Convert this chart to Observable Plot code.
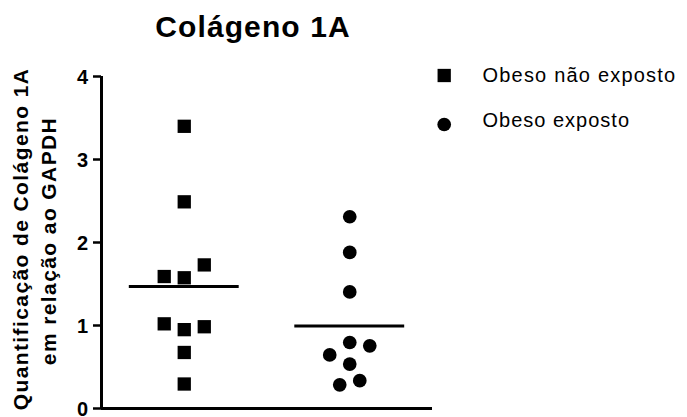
<!DOCTYPE html>
<html>
<head>
<meta charset="utf-8">
<script src="https://cdn.jsdelivr.net/npm/d3@7"></script>
<script src="https://cdn.jsdelivr.net/npm/@observablehq/plot@0.6"></script>
<style>
  html, body { margin: 0; padding: 0; background: #fff; }
  #chart svg { display: block; font-family: "Liberation Sans", Arial, sans-serif; }
</style>
</head>
<body>
<div id="chart"></div>
<script>
// Colágeno 1A relative to GAPDH, per animal
const grupos = ["Obeso não exposto", "Obeso exposto"];
const naoExposto = [3.40, 2.49, 1.59, 1.575, 1.73, 1.02, 0.95, 0.985, 0.675, 0.295];
const naoExpostoFaixa = [0, 0, -1, 0, 1, -1, 0, 1, 0, 0];   // horizontal scatter lane of each point
const exposto = [2.31, 1.88, 1.405, 0.795, 0.755, 0.645, 0.535, 0.335, 0.285];
const expostoFaixa = [0, 0, 0, 0, 1, -1, 0, 0.5, -0.5];
const yTicks = [0, 1, 2, 3, 4];
const titulo = "Colágeno 1A";
const yTitulo = ["Quantificação de Colágeno 1A", "em relação ao GAPDH"];

const passoFaixa = 0.121; // spacing between scatter lanes, in group units
const meiaLargura = 0.332; // half width of the mean line

const pontosA = naoExposto.map((v, i) => ({grupo: 1, x: 1 + naoExpostoFaixa[i] * passoFaixa, y: v}));
const pontosB = exposto.map((v, i) => ({grupo: 2, x: 2 + expostoFaixa[i] * passoFaixa, y: v}));
const medias = [
  {grupo: 1, y: d3.mean(naoExposto)},
  {grupo: 2, y: d3.mean(exposto)}
];

const FONT = "Liberation Sans, Arial, sans-serif";
const simbolos = ["square", "circle"];
const raio = {square: 7.5, circle: 6.85};
const legendaSimboloDy = [-1, 48];
const legendaTextoDy = [-1, 44];

const svg = Plot.plot({
  width: 687,
  height: 417,
  marginLeft: 101,
  marginRight: 255,
  marginTop: 76,
  marginBottom: 9,
  style: {fontFamily: FONT, color: "#000", background: "#fff", overflow: "visible"},
  x: {type: "linear", domain: [0.5, 2.5], axis: null},
  y: {domain: [0, 4], axis: null},
  marks: [
    // y axis: ticks, then labels
    Plot.axisY({ticks: yTicks, tickSize: 8, strokeWidth: 2.5, fill: "none", label: null, tickFormat: d => d}),
    Plot.axisY({ticks: yTicks, tickSize: 0, tickPadding: 13.5, dy: 1.5, fontSize: 20, fontWeight: "bold",
                stroke: "none", fill: "#000", label: null, tickFormat: d => String(d)}),
    // axis lines
    Plot.ruleX([0.5], {stroke: "#000", strokeWidth: 3}),
    Plot.ruleY([0], {stroke: "#000", strokeWidth: 3}),
    // mean lines
    Plot.ruleY(medias, {y: "y", x1: d => d.grupo - meiaLargura, x2: d => d.grupo + meiaLargura,
                        stroke: "#000", strokeWidth: 3}),
    // individual values
    Plot.dot(pontosA, {x: "x", y: "y", symbol: "square", r: raio.square, fill: "#000", stroke: "none"}),
    Plot.dot(pontosB, {x: "x", y: "y", symbol: "circle", r: raio.circle, fill: "#000", stroke: "none"}),
    // title
    Plot.text([titulo], {text: d => d, frameAnchor: "top", dx: -14, dy: -49, fontSize: 30,
                         textAnchor: "middle", lineAnchor: "middle", fontWeight: "bold", fill: "#000"}),
    // y-axis title (two lines)
    Plot.text([yTitulo[0]], {text: d => d, frameAnchor: "left", rotate: -90, dx: -80.7, dy: -3.5,
                             textAnchor: "middle", lineAnchor: "middle",
                             fontSize: 21, fontWeight: "bold", fill: "#000"}),
    Plot.text([yTitulo[1]], {text: d => d, frameAnchor: "left", rotate: -90, dx: -52, dy: -1.5,
                             textAnchor: "middle", lineAnchor: "middle",
                             fontSize: 21, fontWeight: "bold", fill: "#000"}),
    // legend
    ...grupos.flatMap((g, i) => [
      Plot.dot([g], {frameAnchor: "top-right", dx: 11.7, dy: legendaSimboloDy[i], symbol: simbolos[i],
                     r: raio[simbolos[i]], fill: "#000", stroke: "none"}),
      Plot.text([g], {text: d => d, frameAnchor: "top-right", dx: 50, dy: legendaTextoDy[i],
                      textAnchor: "start", lineAnchor: "middle", fontSize: 20, fill: "#000"})
    ])
  ]
});

// wider letter spacing for the longer text runs
const espacamento = new Map([
  [titulo, 1.1], [yTitulo[0], 1.4], [yTitulo[1], 1.4], [grupos[0], 1.2], [grupos[1], 1.0]
]);
d3.select(svg).selectAll("text")
  .filter(function() { return espacamento.has(this.textContent); })
  .style("letter-spacing", function() { return espacamento.get(this.textContent) + "px"; });

document.getElementById("chart").appendChild(svg);
</script>
</body>
</html>
